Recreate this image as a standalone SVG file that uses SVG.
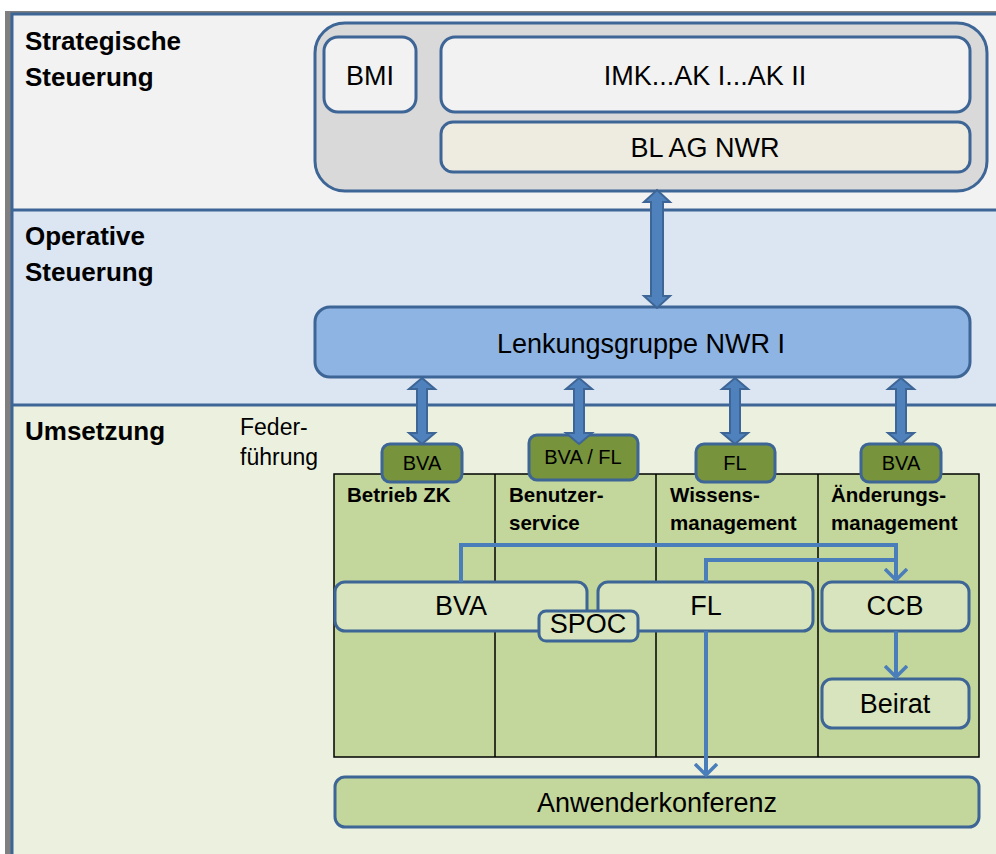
<svg xmlns="http://www.w3.org/2000/svg" width="996" height="854" viewBox="0 0 996 854">
<style>
text{font-family:"Liberation Sans",Arial,sans-serif;fill:#000}
.h{font-weight:bold;font-size:26px}
.ch{font-weight:bold;font-size:20.5px}
.lbl{font-size:27px;text-anchor:middle}
.tab{font-size:20px;text-anchor:middle}
.box{stroke:#3d6596;stroke-width:3}
.conn{fill:none;stroke:#4a7ebb;stroke-width:4}
.blk{fill:#4f81bd;stroke:#3d6596;stroke-width:2;stroke-linejoin:miter}
</style>
<defs>
<marker id="ah" viewBox="0 0 14 24" markerWidth="14" markerHeight="24" refX="12" refY="12" orient="auto" markerUnits="userSpaceOnUse">
<path d="M1,1 L12,12 L1,23" fill="none" stroke="#4a7ebb" stroke-width="3.5"/>
</marker>
</defs>
<g id="background">
<rect x="0" y="0" width="996" height="854" fill="#ffffff"/>
<rect x="5" y="11" width="991" height="843" fill="#7f7f7f"/>
<rect x="12" y="14" width="984" height="196" fill="#f2f2f2"/>
<rect x="12" y="210" width="984" height="195" fill="#dce6f2"/>
<rect x="12" y="405" width="984" height="449" fill="#ebf1de"/>
<path d="M12,854 V14 H996 M12,210 H996 M12,405 H996" fill="none" stroke="#3d6596" stroke-width="3"/>
</g>
<g id="band-labels">
<text class="h" x="25" y="50">Strategische</text>
<text class="h" x="25" y="86">Steuerung</text>
<text class="h" x="25" y="245">Operative</text>
<text class="h" x="25" y="281">Steuerung</text>
<text class="h" x="25" y="440">Umsetzung</text>
<text x="240" y="435" font-size="23">Feder-</text>
<text x="240" y="465" font-size="23">führung</text>
</g>
<g id="strategie">
<rect class="box" x="315" y="23" width="672" height="168" rx="30" fill="#d9d9d9"/>
</g>
<g id="bmi">
<rect class="box" x="324" y="37" width="92" height="75" rx="14" fill="#f2f2f2"/>
<text class="lbl" x="370" y="85" font-size="28">BMI</text>
</g>
<g id="imk">
<rect class="box" x="441" y="37" width="529" height="75" rx="14" fill="#f2f2f2"/>
<text class="lbl" x="705" y="85">IMK...AK I...AK II</text>
</g>
<g id="blag">
<rect class="box" x="441" y="122" width="529" height="50" rx="12" fill="#eeece1"/>
<text class="lbl" x="705" y="157">BL AG NWR</text>
</g>
<g id="lenkung">
<rect class="box" x="315" y="307" width="655" height="70" rx="15" fill="#8eb4e3"/>
<text class="lbl" x="641" y="353" font-size="27.5">Lenkungsgruppe NWR I</text>
</g>
<g id="grid">
<rect x="334" y="474" width="645" height="283" fill="#c3d69b" stroke="#000" stroke-width="1.5"/>
<path d="M495,474 V757 M656,474 V757 M818,474 V757" stroke="#000" stroke-width="1.5"/>
</g>
<g id="col-betrieb"><text class="ch" x="347" y="502">Betrieb ZK</text></g>
<g id="col-benutzer"><text class="ch" x="509" y="502">Benutzer-</text><text class="ch" x="509" y="530">service</text></g>
<g id="col-wissen"><text class="ch" x="670" y="502">Wissens-</text><text class="ch" x="670" y="530">management</text></g>
<g id="col-aenderung"><text class="ch" x="831" y="502">Änderungs-</text><text class="ch" x="831" y="530">management</text></g>
<g id="tab-bva1">
<rect class="box" x="382" y="444" width="80" height="38" rx="8" fill="#77933c"/>
<text class="tab" x="422" y="470">BVA</text>
</g>
<g id="tab-bvafl">
<rect class="box" x="529" y="435" width="109" height="45" rx="8" fill="#77933c"/>
<text class="tab" x="583" y="464" font-size="16.5">BVA / FL</text>
</g>
<g id="tab-fl">
<rect class="box" x="696" y="444" width="79" height="38" rx="8" fill="#77933c"/>
<text class="tab" x="735" y="470">FL</text>
</g>
<g id="tab-bva4">
<rect class="box" x="861" y="444" width="80" height="38" rx="8" fill="#77933c"/>
<text class="tab" x="901" y="470">BVA</text>
</g>
<g id="bva">
<rect class="box" x="335" y="582" width="252" height="49" rx="10" fill="#d7e4bd"/>
<text class="lbl" x="461" y="615">BVA</text>
</g>
<g id="fl">
<rect class="box" x="598" y="582" width="215" height="49" rx="10" fill="#d7e4bd"/>
<text class="lbl" x="706" y="615" font-size="24">FL</text>
</g>
<g id="spoc">
<rect class="box" x="539" y="611" width="99" height="30" rx="7" fill="#d7e4bd"/>
<text class="lbl" x="588" y="633" font-size="19.5">SPOC</text>
</g>
<g id="ccb">
<rect class="box" x="822" y="582" width="147" height="49" rx="10" fill="#d7e4bd"/>
<text class="lbl" x="895" y="615" font-size="24.5">CCB</text>
</g>
<g id="beirat">
<rect class="box" x="822" y="679" width="147" height="49" rx="10" fill="#d7e4bd"/>
<text class="lbl" x="895" y="713" font-size="28">Beirat</text>
</g>
<g id="anwender">
<rect class="box" x="335" y="777" width="644" height="50" rx="10" fill="#c3d69b"/>
<text class="lbl" x="657" y="812" font-size="29">Anwenderkonferenz</text>
</g>
<g id="connectors">
<polygon class="blk" points="657,190 670,202 663,202 663,296 670,296 657,308 644,296 651,296 651,202 644,202"/>
<polygon class="blk" points="422,378 435,389 427,389 427,433 435,433 422,444 409,433 417,433 417,389 409,389"/>
<polygon class="blk" points="579,378 592,389 584,389 584,433 592,433 579,444 566,433 574,433 574,389 566,389"/>
<polygon class="blk" points="735,378 748,389 740,389 740,433 748,433 735,444 722,433 730,433 730,389 722,389"/>
<polygon class="blk" points="901,378 914,389 906,389 906,433 914,433 901,444 888,433 896,433 896,389 888,389"/>
<path class="conn" d="M461,582 V545 H896 V580" marker-end="url(#ah)"/>
<path class="conn" d="M706,582 V560 H896"/>
<path class="conn" d="M706,631 V775" marker-end="url(#ah)"/>
<path class="conn" d="M896,631 V677" marker-end="url(#ah)"/>
</g>
</svg>
